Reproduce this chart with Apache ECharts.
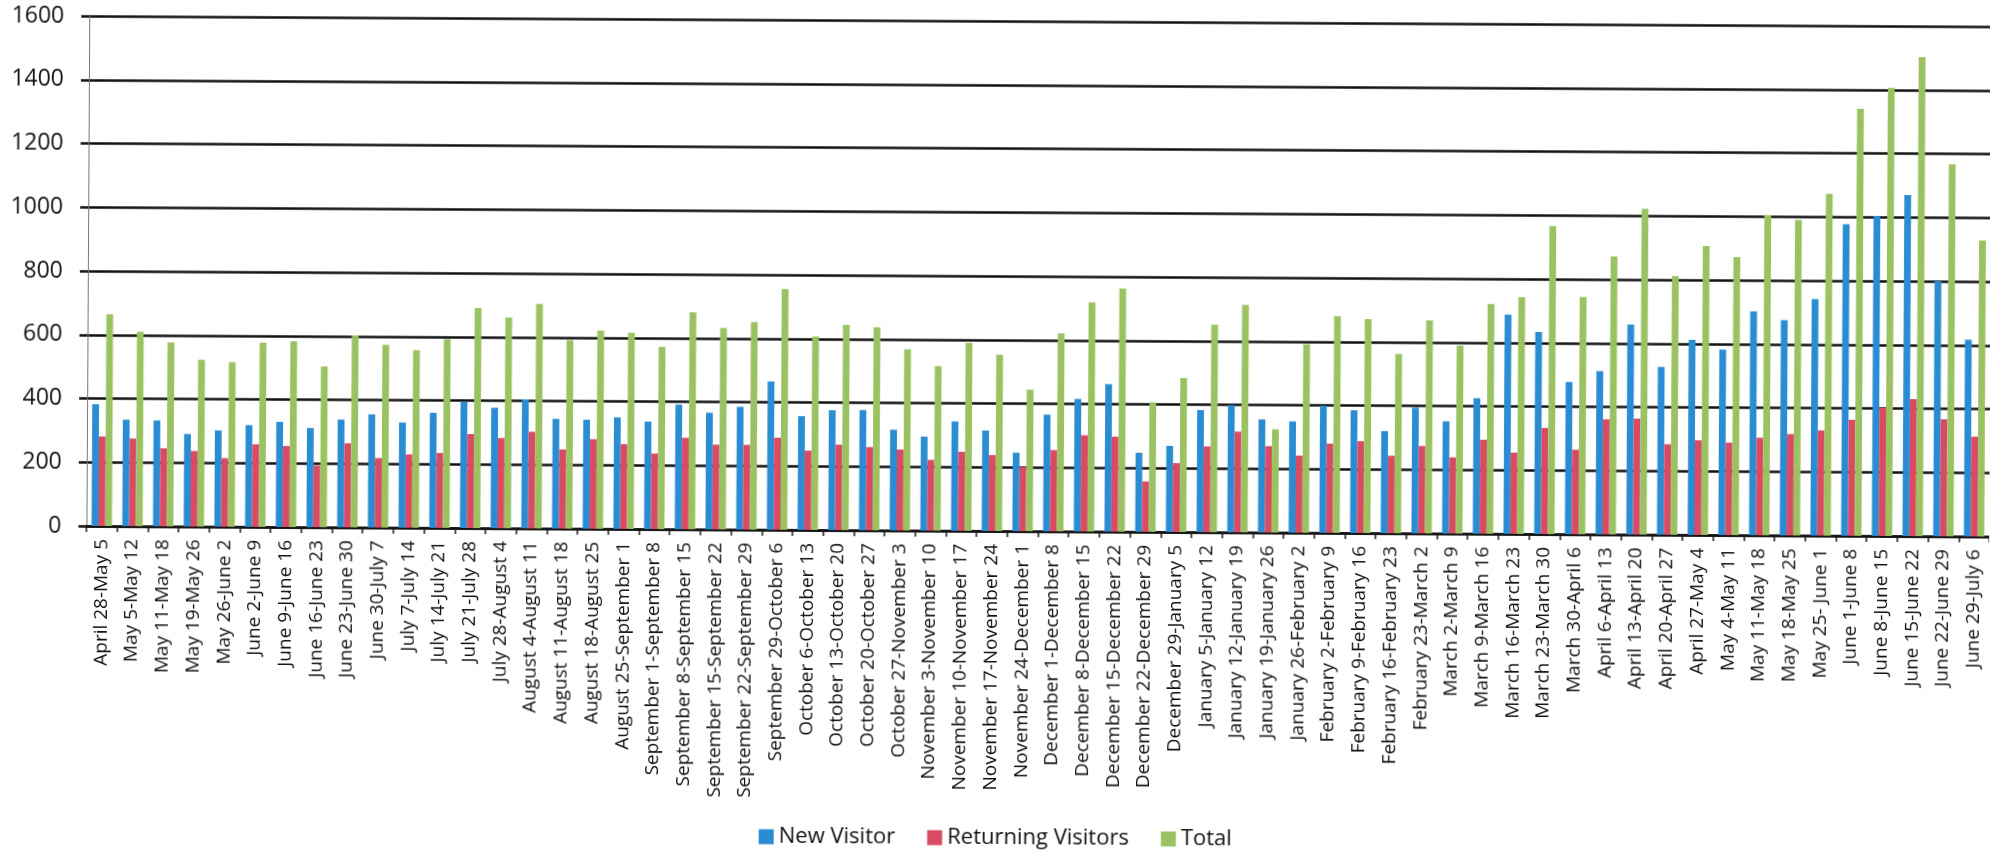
<!DOCTYPE html>
<html>
<head>
<meta charset="utf-8">
<title>Weekly Visitors</title>
<script src="https://cdn.jsdelivr.net/npm/echarts@6/dist/echarts.min.js"></script>
<style>
  html, body { margin: 0; padding: 0; background: #ffffff; overflow: hidden; }
  #chart { width: 1990px; height: 853px; transform: rotate(0.32deg); transform-origin: 50% 50%; }
</style>
</head>
<body>
<div id="chart"></div>
<script>
// Week ranges on the category axis
const weeks = [
  'April 28-May 5', 'May 5-May 12', 'May 11-May 18', 'May 19-May 26', 'May 26-June 2',
  'June 2-June 9', 'June 9-June 16', 'June 16-June 23', 'June 23-June 30', 'June 30-July 7',
  'July 7-July 14', 'July 14-July 21', 'July 21-July 28', 'July 28-August 4', 'August 4-August 11',
  'August 11-August 18', 'August 18-August 25', 'August 25-September 1', 'September 1-September 8',
  'September 8-September 15', 'September 15-September 22', 'September 22-September 29',
  'September 29-October 6', 'October 6-October 13', 'October 13-October 20', 'October 20-October 27',
  'October 27-November 3', 'November 3-November 10', 'November 10-November 17', 'November 17-November 24',
  'November 24-December 1', 'December 1-December 8', 'December 8-December 15', 'December 15-December 22',
  'December 22-December 29', 'December 29-January 5', 'January 5-January 12', 'January 12-January 19',
  'January 19-January 26', 'January 26-February 2', 'February 2-February 9', 'February 9-February 16',
  'February 16-February 23', 'February 23-March 2', 'March 2-March 9', 'March 9-March 16',
  'March 16-March 23', 'March 23-March 30', 'March 30-April 6', 'April 6-April 13', 'April 13-April 20',
  'April 20-April 27', 'April 27-May 4', 'May 4-May 11', 'May 11-May 18', 'May 18-May 25',
  'May 25- June 1', 'June 1-June 8', 'June 8-June 15', 'June 15-June 22', 'June 22-June 29',
  'June 29-July 6'
];

const newVisitors = [
  382, 334, 332, 290, 302, 319, 330, 311, 338, 355,
  330, 361, 396, 378, 405, 344, 342, 350, 337, 391,
  366, 385, 465, 357, 376, 377, 316, 295, 343, 315,
  246, 366, 416, 463, 248, 270, 383, 399, 355, 349,
  399, 385, 320, 394, 352, 425, 688, 634, 478, 512,
  659, 526, 612, 582, 702, 675, 742, 977, 1004, 1070,
  800, 617
];

const returningVisitors = [
  281, 275, 245, 237, 215, 259, 254, 193, 264, 218,
  230, 235, 295, 283, 303, 248, 281, 266, 237, 287,
  266, 266, 289, 249, 268, 261, 254, 222, 248, 238,
  201, 255, 302, 298, 158, 216, 269, 316, 271, 242,
  280, 288, 243, 274, 239, 295, 255, 333, 265, 361,
  364, 284, 297, 290, 306, 318, 330, 364, 402, 430,
  367, 313
];

const totals = [
  664, 610, 577, 523, 516, 578, 583, 504, 602, 573,
  557, 592, 690, 661, 704, 591, 622, 616, 572, 681,
  632, 651, 755, 607, 644, 637, 569, 516, 590, 553,
  444, 621, 719, 763, 406, 483, 651, 714, 324, 591,
  680, 671, 562, 668, 590, 721, 743, 966, 744, 872,
  1022, 812, 907, 872, 1005, 990, 1072, 1340, 1406, 1503,
  1167, 929
];

// Value axis range and step
const valueMin = 0;
const valueMax = 1600;
const valueStep = 200;

const seriesNames = ['New Visitor', 'Returning Visitors', 'Total'];
const seriesColors = ['#2a8dd4', '#d94b63', '#9bc262'];

const font = '"Open Sans", "DejaVu Sans", sans-serif';
const chart = echarts.init(document.getElementById('chart'), null, { renderer: 'canvas' });

function barSeries(name, values, color) {
  return {
    name: name,
    type: 'bar',
    data: values,
    barWidth: 6.8,
    barGap: '0%',
    itemStyle: { color: color },
    emphasis: { disabled: true }
  };
}

chart.setOption({
  backgroundColor: '#ffffff',
  animation: false,
  textStyle: { fontFamily: font },
  grid: { left: 87, right: 0, top: 21, bottom: 322, containLabel: false },
  legend: {
    data: seriesNames,
    left: 761,
    top: 827,
    padding: 0,
    itemWidth: 15,
    itemHeight: 15,
    itemGap: 32,
    icon: 'rect',
    textStyle: { fontFamily: font, fontSize: 22, color: '#111111' }
  },
  xAxis: {
    type: 'category',
    data: weeks,
    boundaryGap: true,
    axisLine: { show: true, lineStyle: { color: '#111111', width: 2.5 } },
    axisTick: { show: true, alignWithLabel: false, length: 6, lineStyle: { color: '#1a1a1a', width: 1.5 } },
    axisLabel: {
      interval: 0,
      rotate: 90,
      margin: 13,
      fontFamily: font,
      fontSize: 19,
      color: '#111111'
    },
    splitLine: { show: false }
  },
  yAxis: {
    type: 'value',
    min: valueMin,
    max: valueMax,
    interval: valueStep,
    axisLine: { show: true, lineStyle: { color: '#777777', width: 1 } },
    axisTick: { show: true, length: 8, lineStyle: { color: '#111111', width: 2.5 } },
    axisLabel: {
      margin: 25,
      fontFamily: font,
      fontSize: 23,
      color: '#111111',
      formatter: function (v) { return String(v); }
    },
    splitLine: { show: true, lineStyle: { color: '#111111', width: 2.5 } }
  },
  series: [
    barSeries(seriesNames[0], newVisitors, seriesColors[0]),
    barSeries(seriesNames[1], returningVisitors, seriesColors[1]),
    barSeries(seriesNames[2], totals, seriesColors[2])
  ]
});
</script>
</body>
</html>
